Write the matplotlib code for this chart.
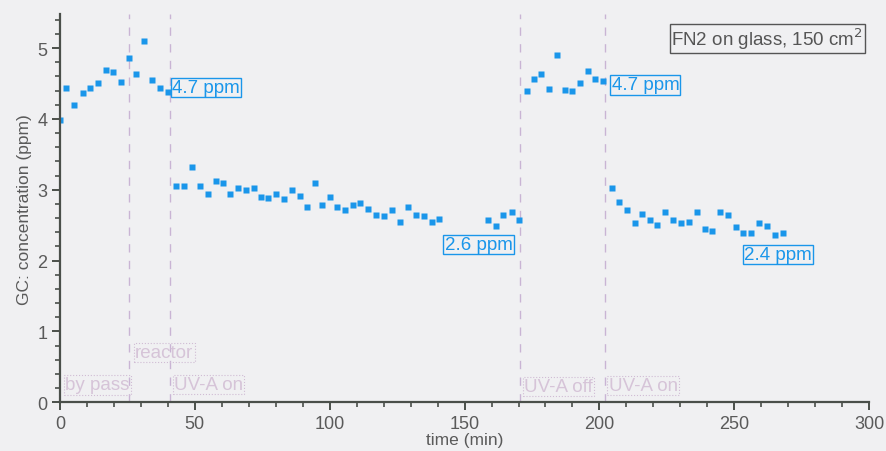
import numpy as np
import matplotlib.pyplot as plt
from matplotlib.ticker import MultipleLocator

plt.rcParams['font.family'] = ['Liberation Sans', 'DejaVu Sans']

# by-pass / reactor, UV-A off
t_dark1 = [0.0, 2.3, 5.3, 8.4, 11.2, 14.1, 17.0, 19.7, 22.6, 25.6, 28.3, 31.2, 34.2, 37.1, 40.0]
c_dark1 = [3.99, 4.43, 4.20, 4.37, 4.43, 4.51, 4.69, 4.66, 4.52, 4.86, 4.63, 5.10, 4.55, 4.43, 4.38]

# UV-A on (first)
t_uv1 = [43.0, 45.9, 49.0, 51.9, 54.8, 57.7, 60.5, 63.1, 65.9, 68.8, 71.9, 74.6, 77.3,
         80.1, 83.1, 85.9, 88.8, 91.6, 94.4, 97.1, 100.0, 102.8, 105.7, 108.6, 111.1,
         114.3, 117.3, 120.1, 123.1, 126.0, 128.9, 131.9, 134.8, 137.8, 140.6,
         158.6, 161.5, 164.4, 167.4, 170.3]
c_uv1 = [3.06, 3.05, 3.32, 3.05, 2.94, 3.13, 3.10, 2.94, 3.02, 2.99, 3.02, 2.90, 2.89,
         2.94, 2.87, 3.00, 2.91, 2.75, 3.09, 2.78, 2.90, 2.76, 2.71, 2.79, 2.81,
         2.73, 2.65, 2.63, 2.71, 2.54, 2.75, 2.64, 2.63, 2.54, 2.59,
         2.58, 2.49, 2.65, 2.68, 2.58]

# UV-A off
t_dark2 = [173.1, 175.8, 178.5, 181.4, 184.2, 187.2, 189.9, 192.7, 195.6, 198.4, 201.4]
c_dark2 = [4.39, 4.56, 4.63, 4.42, 4.90, 4.41, 4.39, 4.51, 4.67, 4.57, 4.53]

# UV-A on (second)
t_uv2 = [204.6, 207.4, 210.4, 213.2, 215.9, 218.6, 221.5, 224.4, 227.4, 230.4, 233.2, 236.0,
         239.0, 241.7, 244.7, 247.7, 250.5, 253.3, 256.3, 259.1, 262.1, 265.1, 267.9]
c_uv2 = [3.03, 2.83, 2.71, 2.53, 2.66, 2.57, 2.50, 2.68, 2.57, 2.53, 2.54, 2.68,
         2.44, 2.42, 2.68, 2.65, 2.47, 2.39, 2.39, 2.53, 2.49, 2.36, 2.39]

switch_times = [25.7, 40.7, 170.6, 202.0]

# (text, x, y) for the blue level labels and the faded phase labels
level_labels = [("4.7 ppm", 41.5, 4.44), ("4.7 ppm", 204.5, 4.48),
                ("2.6 ppm", 142.6, 2.23), ("2.4 ppm", 253.7, 2.09)]
phase_labels = [("by pass", 1.9, 0.245), ("reactor", 27.9, 0.70), ("UV-A on", 42.3, 0.25),
                ("UV-A off", 171.9, 0.22), ("UV-A on", 203.4, 0.24)]

BLUE = '#1a96ea'
BG = '#f0f0f2'
AX = '#4a4f4a'

fig = plt.figure(figsize=(8.86, 4.52), dpi=100, facecolor=BG)
ax = fig.add_axes([0.0677, 0.1077, 0.9133, 0.859], facecolor=BG)

for t, c in [(t_dark1, c_dark1), (t_uv1, c_uv1), (t_dark2, c_dark2), (t_uv2, c_uv2)]:
    ax.plot(t, c, 's', color=BLUE, ms=4.3, mec='none')

for xs in switch_times:
    ax.axvline(xs, color='#c9b4d4', lw=1.0, ls=(0, (6, 6)), zorder=0)

for txt, x, y in level_labels:
    ax.text(x, y, txt, color=BLUE, fontsize=13.5, va='center', ha='left',
            bbox=dict(boxstyle='square,pad=0.06', fc='none', ec=BLUE, lw=1.0))

for txt, x, y in phase_labels:
    ax.text(x, y, txt, color='#d6c4d8', fontsize=13.5, va='center', ha='left',
            bbox=dict(boxstyle='square,pad=0.06', fc='none', ec='#d0bcd4', lw=0.8, ls=':'))

ax.text(0.9925, 0.97, "FN2 on glass, 150 cm$^2$", transform=ax.transAxes, color='#555555',
        fontsize=13.5, ha='right', va='top',
        bbox=dict(boxstyle='square,pad=0.1', fc='none', ec='#555555', lw=1.0))

ax.set_xlim(0, 300)
ax.set_ylim(0, 5.48)
ax.xaxis.set_major_locator(MultipleLocator(50))
ax.xaxis.set_minor_locator(MultipleLocator(10))
ax.yaxis.set_major_locator(MultipleLocator(1))
ax.yaxis.set_minor_locator(MultipleLocator(0.2))

for s in ['top', 'right']:
    ax.spines[s].set_visible(False)
for s in ['left', 'bottom']:
    ax.spines[s].set_color(AX)
    ax.spines[s].set_linewidth(1.6)
ax.tick_params(which='major', length=6, width=1.4, color=AX, labelcolor='#5a5a5a',
               labelsize=13, pad=3)
ax.tick_params(which='minor', length=3.5, width=1.2, color=AX)

ax.set_xlabel('time (min)', fontsize=12.5, color='#5a5a5a', labelpad=0)
ax.set_ylabel('GC: concentration (ppm)', fontsize=12.5, color='#5a5a5a', labelpad=4)

fig.savefig('out.png', dpi=100, facecolor=BG)
